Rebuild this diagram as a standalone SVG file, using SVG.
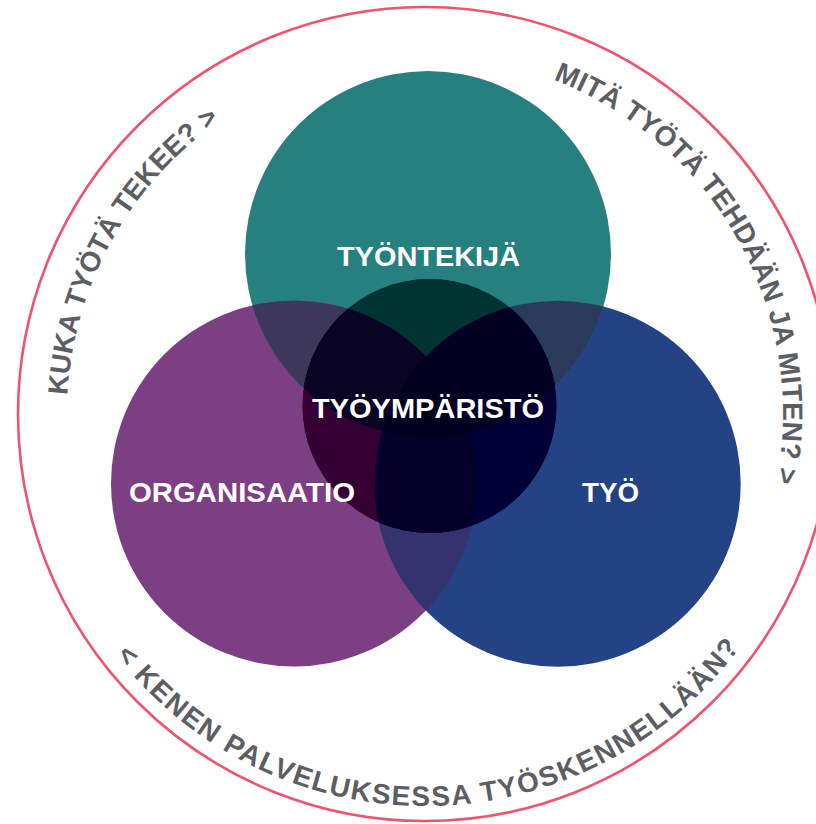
<svg xmlns="http://www.w3.org/2000/svg" xmlns:xlink="http://www.w3.org/1999/xlink" width="816" height="824" viewBox="0 0 816 824">
  <style>
    .label { font-family: "Liberation Sans", Arial, sans-serif; font-weight: 700; font-size: 28px; fill: #ffffff; text-anchor: middle; }
    .question { font-family: "Liberation Sans", Arial, sans-serif; font-weight: 700; font-size: 28px; fill: #5c5e63; }
    .ring { fill: none; stroke: #ec5470; stroke-width: 2.6; }
  </style>
  <defs>
    <!-- circle geometry, shared by fills and clips -->
    <circle id="c-t" cx="428" cy="254" r="183"/>
    <circle id="c-p" cx="294" cy="483.5" r="183"/>
    <circle id="c-n" cx="557.7" cy="483.7" r="183"/>
    <circle id="c-c" cx="429.5" cy="406" r="127"/>
    <clipPath id="clip-t"><circle cx="428" cy="254" r="183"/></clipPath>
    <clipPath id="clip-p"><circle cx="294" cy="483.5" r="183"/></clipPath>
    <clipPath id="clip-n"><circle cx="557.7" cy="483.7" r="183"/></clipPath>
    <clipPath id="clip-c"><circle cx="429.5" cy="406" r="127"/></clipPath>
    <!-- baselines for the ring questions -->
    <path id="arc-left" d="M 67.5 395.3 A 358 358 0 0 1 246 104"/>
    <path id="arc-right" d="M 553.3 79.8 A 358 358 0 0 1 761.4 536.4"/>
    <path id="arc-bottom" d="M 115.7 654.8 A 392 392 0 0 0 764.5 610"/>
  </defs>

  <rect width="816" height="824" fill="#ffffff"/>

  <!-- outer ring -->
  <circle class="ring" cx="425" cy="414" r="407"/>

  <!-- main circles -->
  <g id="node-organisaatio">
    <use xlink:href="#c-p" fill="#7d3f83"/>
  </g>
  <g id="node-tyo">
    <use xlink:href="#c-n" fill="#234385"/>
  </g>
  <g id="node-tyontekija">
    <use xlink:href="#c-t" fill="#268080"/>
  </g>

  <!-- pairwise overlaps -->
  <g id="overlaps">
    <g clip-path="url(#clip-t)">
      <use xlink:href="#c-p" fill="#3d3759"/>
      <use xlink:href="#c-n" fill="#2a3a5d"/>
    </g>
    <g clip-path="url(#clip-p)">
      <use xlink:href="#c-n" fill="#353270"/>
    </g>
  </g>

  <!-- central circle with its darker sub-regions -->
  <g id="node-tyoymparisto">
    <g clip-path="url(#clip-c)">
      <use xlink:href="#c-c" fill="#04001f"/>
      <use xlink:href="#c-t" fill="#013332"/>
      <use xlink:href="#c-p" fill="#330031"/>
      <use xlink:href="#c-n" fill="#000036"/>
      <g clip-path="url(#clip-t)">
        <use xlink:href="#c-p" fill="#0a0424"/>
        <use xlink:href="#c-n" fill="#020021"/>
      </g>
      <g clip-path="url(#clip-p)">
        <use xlink:href="#c-n" fill="#05002a"/>
      </g>
      <g clip-path="url(#clip-t)">
        <g clip-path="url(#clip-p)">
          <use xlink:href="#c-n" fill="#03001f"/>
        </g>
      </g>
    </g>
  </g>

  <!-- circle labels -->
  <g id="labels">
    <text id="label-tyontekija" class="label" x="428.5" y="266" textLength="183" lengthAdjust="spacingAndGlyphs">TYÖNTEKIJÄ</text>
    <text id="label-tyoymparisto" class="label" x="428" y="418" textLength="232" lengthAdjust="spacingAndGlyphs">TYÖYMPÄRISTÖ</text>
    <text id="label-organisaatio" class="label" x="242" y="502" textLength="226" lengthAdjust="spacingAndGlyphs">ORGANISAATIO</text>
    <text id="label-tyo" class="label" x="610.5" y="502" textLength="57" lengthAdjust="spacingAndGlyphs">TYÖ</text>
  </g>

  <!-- questions around the ring -->
  <g id="questions">
    <text class="question"><textPath xlink:href="#arc-left" textLength="325" lengthAdjust="spacing">KUKA TYÖTÄ TEKEE? &gt;</textPath></text>
    <text class="question"><textPath xlink:href="#arc-right" textLength="500" lengthAdjust="spacing">MITÄ TYÖTÄ TEHDÄÄN JA MITEN? &gt;</textPath></text>
    <text class="question"><textPath xlink:href="#arc-bottom" textLength="722" lengthAdjust="spacing">&lt; KENEN PALVELUKSESSA TYÖSKENNELLÄÄN?</textPath></text>
  </g>
</svg>
